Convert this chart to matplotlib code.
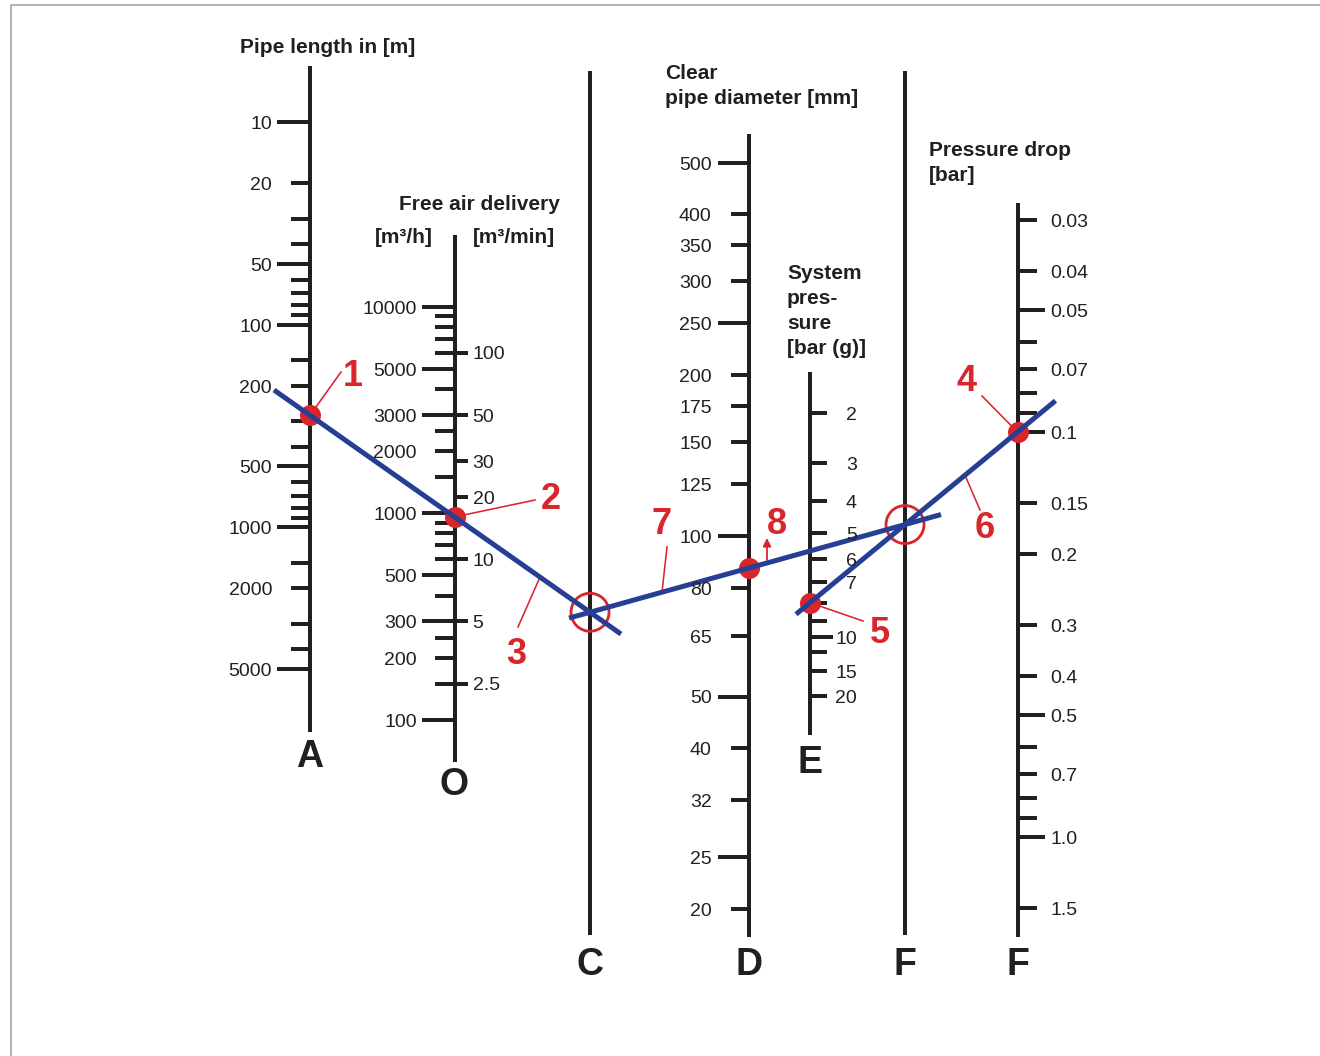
import numpy as np
import matplotlib.pyplot as plt
from matplotlib.patches import Circle

plt.rcParams['font.family'] = ['Liberation Sans', 'DejaVu Sans']

# ---- scale values ----
length_ticks = [10, 20, 30, 40, 50, 60, 70, 80, 90, 100, 150, 200, 300, 400, 500,
                600, 700, 800, 900, 1000, 1500, 2000, 3000, 4000, 5000]
length_major = [10, 50, 100, 500, 1000, 5000]
length_labels = [10, 20, 50, 100, 200, 500, 1000, 2000, 5000]

fad_h_ticks = [10000, 9000, 8000, 7000, 6000, 5000, 4000, 3000, 2500, 2000, 1500,
               1000, 900, 800, 700, 600, 500, 400, 300, 250, 200, 150, 100]
fad_h_major = [10000, 5000, 3000, 1000, 500, 300, 100]
fad_h_labels = [10000, 5000, 3000, 2000, 1000, 500, 300, 200, 100]
fad_min_ticks = [100, 50, 30, 20, 10, 5, 2.5]
fad_min_labels = ['100', '50', '30', '20', '10', '5', '2.5']

diam_ticks = [500, 400, 350, 300, 250, 200, 175, 150, 125, 100, 80, 65, 50, 40, 32, 25, 20]
diam_major = [500, 250, 100, 50, 25]

press_ticks = [2, 3, 4, 5, 6, 7, 8, 9, 10, 12, 15, 20]
press_major = [10]
press_labels = [2, 3, 4, 5, 6, 7, 10, 15, 20]

drop_ticks = [0.03, 0.04, 0.05, 0.06, 0.07, 0.08, 0.09, 0.1, 0.15, 0.2, 0.3, 0.4,
              0.5, 0.6, 0.7, 0.8, 0.9, 1.0, 1.5]
drop_major = [0.05, 0.1, 0.5, 1.0]
drop_label_vals = [0.03, 0.04, 0.05, 0.07, 0.1, 0.15, 0.2, 0.3, 0.4, 0.5, 0.7, 1.0, 1.5]
drop_labels = ['0.03', '0.04', '0.05', '0.07', '0.1', '0.15', '0.2', '0.3', '0.4',
               '0.5', '0.7', '1.0', '1.5']

# worked example
ex_length = 280      # m
ex_fad = 16          # m3/min
ex_pressure = 8      # bar (g)
ex_drop = 0.1        # bar

INK = '#231f20'
RED = '#d9252c'
BLUE = '#263f94'
PX = 72 / 100  # points per pixel


# ---- scale mappings (value -> pixel y) ----
def y_length(v):
    return 122 + (np.log10(v) - 1) * 202.7

def y_fad_h(v):
    return 306.7 + (4 - np.log10(v)) * 206.6

def y_fad_min(v):
    return y_fad_h(np.asarray(v, float) * 60)

def y_diam(v):
    return 162.7 + (np.log10(500) - np.log10(v)) * 533.8

def y_press(v):
    v = np.asarray(v, float)
    lo = 413.3 + 397 * np.log10((v + 1) / 3)
    hi = 637.3 + 208 * np.log10((v + 1) / 11)
    return np.where(v <= 10, lo, hi)

def y_drop(v):
    return 837 + np.log10(v) * 405


XA, XO, XC, XD, XE, XF, XF2 = 310, 454.5, 590, 749, 810, 905, 1017.5

fig = plt.figure(figsize=(13.2, 10.56), dpi=100)
ax = fig.add_axes([0, 0, 1, 1])
ax.set_xlim(0, 1320)
ax.set_ylim(1056, 0)
ax.axis('off')


def txt(x, y, s, size, ha='center', color=INK, weight='normal'):
    # y is the visual centre of the capitals/digits
    base = y + 0.358 * size / PX
    ax.text(x, base, s, fontsize=size, ha=ha, va='baseline', color=color,
            fontweight=weight, zorder=6)


def vline(x, y0, y1):
    ax.plot([x, x], [y0, y1], color=INK, lw=4 * PX, solid_capstyle='butt', zorder=2)


def tick(x, y, length):
    ax.plot([x, x + length], [y, y], color=INK, lw=4 * PX, solid_capstyle='butt', zorder=2)


# frame
ax.plot([11, 11, 1320], [1056, 5, 5], color='#b4b4b4', lw=2 * PX, solid_capstyle='butt')

# A: pipe length
vline(XA, 66, 732)
for v in length_ticks:
    tick(XA, y_length(v), -33 if v in length_major else -19)
for v in length_labels:
    txt(272, y_length(v), str(v), 14, ha='right')
txt(240, 46, 'Pipe length in [m]', 15, ha='left', weight='bold')
txt(XA, 754, 'A', 27, weight='bold')

# O: free air delivery
vline(XO, 235, 762)
for v in fad_h_ticks:
    tick(XO, y_fad_h(v), -32.5 if v in fad_h_major else -19.5)
for v in fad_h_labels:
    txt(416.7, y_fad_h(v), str(v), 14, ha='right')
for v, s in zip(fad_min_ticks, fad_min_labels):
    tick(XO, y_fad_min(v), 13)
    txt(472.7, y_fad_min(v), s, 14, ha='left')
txt(479, 203, 'Free air delivery', 15, weight='bold')
txt(404, 236, '[m³/h]', 15, weight='bold')
txt(514, 236, '[m³/min]', 15, weight='bold')
txt(XO, 782, 'O', 27, weight='bold')

# C: reference line
vline(XC, 71, 935)
txt(XC, 962, 'C', 27, weight='bold')

# D: clear pipe diameter
vline(XD, 134, 937)
for v in diam_ticks:
    tick(XD, y_diam(v), -31.5 if v in diam_major else -18)
    txt(711.7, y_diam(v), str(v), 14, ha='right')
txt(665, 72, 'Clear', 15, ha='left', weight='bold')
txt(665, 97, 'pipe diameter [mm]', 15, ha='left', weight='bold')
txt(XD, 962, 'D', 27, weight='bold')

# E: system pressure
vline(XE, 372, 735)
for v in press_ticks:
    tick(XE, y_press(v), 23 if v in press_major else 17)
for v in press_labels:
    txt(857, y_press(v), str(v), 14, ha='right')
for i, s in enumerate(['System', 'pres-', 'sure', '[bar (g)]']):
    txt(787, 272 + 25 * i, s, 15, ha='left', weight='bold')
txt(XE, 760, 'E', 27, weight='bold')

# F: reference line
vline(XF, 71, 935)
txt(XF, 962, 'F', 27, weight='bold')

# F: pressure drop
vline(XF2, 203, 937)
for v in drop_ticks:
    tick(XF2, y_drop(v), 27 if v in drop_major else 19)
for v, s in zip(drop_label_vals, drop_labels):
    txt(1050, y_drop(v), s, 14, ha='left')
txt(929, 149, 'Pressure drop', 15, ha='left', weight='bold')
txt(929, 174, '[bar]', 15, ha='left', weight='bold')
txt(XF2, 962, 'F', 27, weight='bold')

# ---- worked example ----
yA = float(y_length(ex_length))
yO = float(y_fad_min(ex_fad))
s1 = (yO - yA) / (XO - XA)
yC = yO + s1 * (XC - XO)

yE = float(y_press(ex_pressure))
yF2 = float(y_drop(ex_drop))
s3 = (yF2 - yE) / (XF2 - XE)
yF = yE + s3 * (XF - XE)

s2 = (yF - yC) / (XF - XC)
yD = yC + s2 * (XD - XC)


def seg(x0, y0, s, xa, xb):
    ax.plot([xa, xb], [y0 + s * (xa - x0), y0 + s * (xb - x0)], color=BLUE,
            lw=5 * PX, solid_capstyle='butt', zorder=5)


seg(XA, yA, s1, XA - 36, XC + 31)
seg(XC, yC, s2, XC - 21, XF + 36)
seg(XE, yE, s3, XE - 14, XF2 + 38)

for x, y in [(XA, yA), (XO, yO), (XD, yD), (XE, yE), (XF2, yF2)]:
    ax.plot(x, y, 'o', ms=21 * PX, color=RED, mec='none', zorder=4)
for x, y in [(XC, yC), (XF, yF)]:
    ax.add_patch(Circle((x, y), 19, fill=False, ec=RED, lw=2.8 * PX, zorder=4))


def leader(x0, y0, x1, y1):
    ax.plot([x0, x1], [y0, y1], color=RED, lw=1.6 * PX, zorder=3)


leader(341, 372, XA, yA)
leader(535, 500, XO, yO)
leader(518, 627, 540, yA + s1 * (540 - XA))
leader(982, 396, XF2, yF2)
leader(863, 621, XE, yE)
leader(980, 510, 965, yE + s3 * (965 - XE))
leader(667, 547, 662, yC + s2 * (662 - XC))
ax.annotate('', xy=(XD + 18, yD - 30), xytext=(XD + 18, yD - 8),
            arrowprops=dict(arrowstyle='-|>', color=RED, lw=1.8 * PX,
                            mutation_scale=12, shrinkA=0, shrinkB=0), zorder=3)

for s, x, y in [('1', 353, 373), ('2', 551, 496), ('3', 516, 651), ('4', 967, 378),
                ('5', 880, 630), ('6', 985, 525), ('7', 662, 521), ('8', 777, 521)]:
    txt(x, y, s, 26, color=RED, weight='bold')

fig.savefig('out.png', dpi=100)
